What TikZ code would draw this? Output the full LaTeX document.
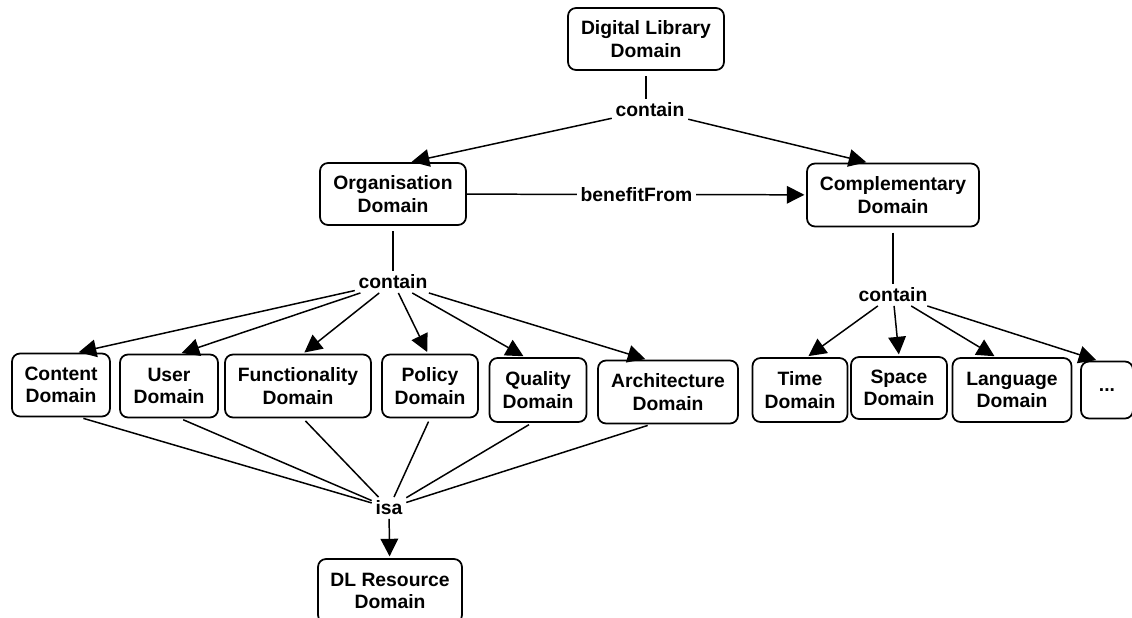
\documentclass[tikz,border=0pt]{standalone}
\usepackage{fontspec}
\setmainfont{Liberation Sans}
\usetikzlibrary{arrows.meta}
\tikzset{
	dombox/.style={draw,line width=1pt,rounded corners=0.16cm,align=center,inner sep=0pt,font=\bfseries\fontsize{11}{12.8}\selectfont},
	rel/.style={inner sep=2pt,font=\bfseries\fontsize{11}{12.8}\selectfont},
	linie/.style={line width=0.85pt},
	pfeil/.style={line width=0.85pt,-{Triangle[length=10pt,width=10pt]},shorten >=1pt}
}
\begin{document}
\begin{tikzpicture}[x=0.02cm,y=-0.02cm]
		\useasboundingbox (0,0) rectangle (1132,618);
		%Oberste Ebene
		\node [dombox,minimum width=3.12cm,minimum height=1.24cm] (dl) at (646,39) {Digital Library\\Domain};
		\node [rel] (c1) at (650,110) {contain};
		\node [dombox,minimum width=2.92cm,minimum height=1.24cm] (org) at (393,194) {Organisation\\Domain};
		\node [dombox,minimum width=3.44cm,minimum height=1.26cm] (comp) at (893,195) {Complementary\\Domain};
		\draw [linie,shorten <=3pt] (dl.south) -- (dl.south |- c1.north);
		\draw [pfeil] (c1) -- ([xshift=0.34cm]org.north);
		\draw [pfeil] (c1) -- ([xshift=-0.5cm]comp.north);
		\draw [pfeil] (org) -- node [rel,fill=white] (bf) {benefitFrom} (comp);
		%Organisation
		\node [rel] (c2) at (393,282) {contain};
		\node [dombox,minimum width=1.96cm,minimum height=1.26cm] (content) at (61,385) {Content\\Domain};
		\node [dombox,minimum width=1.96cm,minimum height=1.26cm] (user) at (169,386) {User\\Domain};
		\node [dombox,minimum width=2.92cm,minimum height=1.26cm] (func) at (298,386) {Functionality\\Domain};
		\node [dombox,minimum width=1.92cm,minimum height=1.26cm] (policy) at (430,386) {Policy\\Domain};
		\node [dombox,minimum width=1.94cm,minimum height=1.28cm] (quality) at (538,390) {Quality\\Domain};
		\node [dombox,minimum width=2.8cm,minimum height=1.26cm] (arch) at (668,392) {Architecture\\Domain};
		\draw [linie,shorten <=3pt] (org.south) -- (c2);
		\draw [pfeil] (c2) -- ([xshift=0.32cm]content.north);
		\draw [pfeil] (c2) -- ([xshift=0.22cm]user.north);
		\draw [pfeil] (c2) -- ([xshift=0.1cm]func.north);
		\draw [pfeil] (c2) -- ([xshift=-0.04cm]policy.north);
		\draw [pfeil] (c2) -- ([xshift=-0.26cm]quality.north);
		\draw [pfeil] (c2) -- ([xshift=-0.42cm]arch.north);
		%isa
		\node [rel] (isa) at (389,508) {isa};
		\node [dombox,minimum width=2.88cm,minimum height=1.28cm] (dlres) at (390,591) {DL Resource\\Domain};
		\draw [linie,shorten <=2pt] ([xshift=0.38cm]content.south) -- (isa);
		\draw [linie,shorten <=2pt] ([xshift=0.22cm]user.south) -- (isa);
		\draw [linie,shorten <=2pt] ([xshift=0.1cm]func.south) -- (isa);
		\draw [linie,shorten <=2pt] (policy.south) -- (isa);
		\draw [linie,shorten <=2pt] ([xshift=-0.12cm]quality.south) -- (isa);
		\draw [linie,shorten <=2pt] ([xshift=-0.34cm]arch.south) -- (isa);
		\draw [pfeil] (isa) -- (dlres);
		%Complementary
		\node [rel] (c3) at (893,295) {contain};
		\node [dombox,minimum width=1.9cm,minimum height=1.28cm] (time) at (800,390) {Time\\Domain};
		\node [dombox,minimum width=1.92cm,minimum height=1.24cm] (space) at (899,388) {Space\\Domain};
		\node [dombox,minimum width=2.38cm,minimum height=1.28cm] (lang) at (1012,390) {Language\\Domain};
		\node [dombox,minimum width=1.04cm,minimum height=1.14cm] (dots) at (1107,390) {...};
		\draw [linie,shorten <=3pt] (comp.south) -- (c3);
		\draw [pfeil] (c3) -- ([xshift=0.14cm]time.north);
		\draw [pfeil] (c3) -- (space.north);
		\draw [pfeil] (c3) -- ([xshift=-0.32cm]lang.north);
		\draw [pfeil] (c3) -- ([xshift=-0.18cm]dots.north);
\end{tikzpicture}
\end{document}
